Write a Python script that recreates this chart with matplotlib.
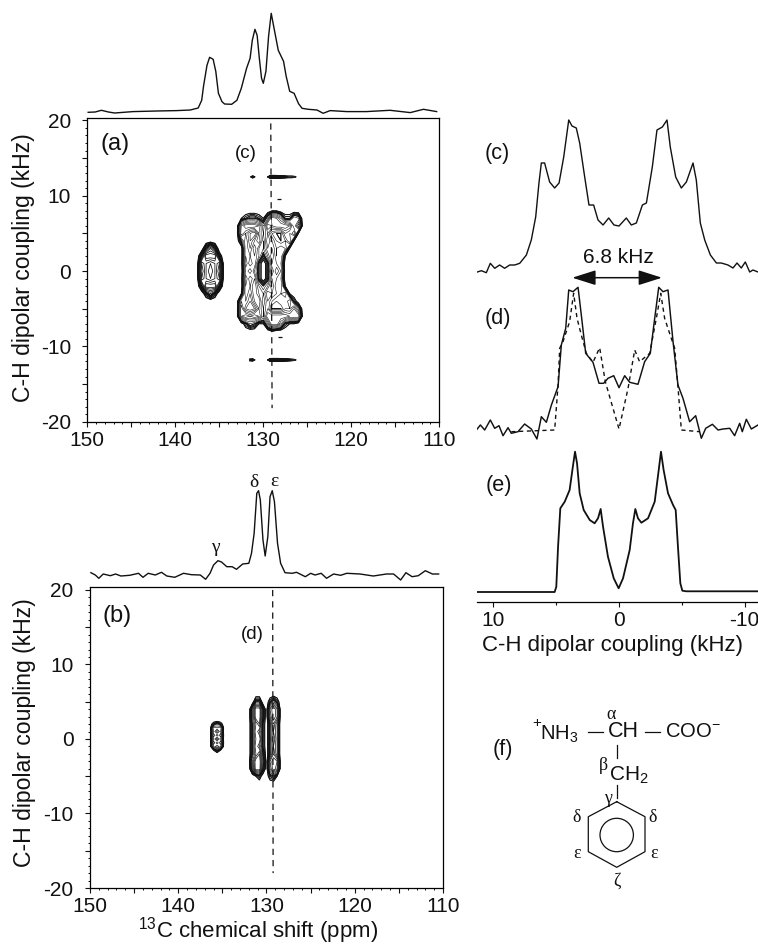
import matplotlib
matplotlib.use('Agg')
import matplotlib.pyplot as plt
import numpy as np

plt.rcParams['font.family'] = ['Liberation Sans', 'DejaVu Sans']
plt.rcParams['mathtext.default'] = 'regular'
plt.rcParams['axes.linewidth'] = 0.9

# 1D slice above panel (a): ppm, height
top_a_ppm = [149.9, 149.1, 148.4, 147.6, 146.9, 144.8, 142.1, 139.8, 138.3, 137.4, 137.0, 136.8, 136.4, 136.1, 135.7,
             135.4, 135.1, 134.7, 134.4, 133.6, 133.0, 132.5, 131.9, 131.5, 131.25, 130.95, 130.7, 130.45, 130.2,
             130.0, 129.7, 129.4, 129.1, 128.8, 128.3, 127.7, 127.4, 127.0, 126.5, 126.0, 125.6, 124.9, 123.9,
             123.2, 122.4, 120.5, 118.3, 115.6, 113.3, 111.8, 110.3]
top_a_int = [0, 0.3, 2, 0.3, -0.7, 0.7, 1.3, 1.7, 2.3, 4.3, 12, 25.7, 47, 55, 53, 41, 19, 10.7, 8.3, 8, 12, 24, 44,
             54, 72, 83, 77, 54, 34, 29, 41, 76, 99, 85, 62, 51, 36, 21, 19, 8.7, 4, 3, 2.3, -1, 1.7, 0.7, 0.7, 2,
             -0.3, 3, 0.7]

# 1D slice above panel (b)
top_b_ppm = [149.9, 149.4, 149.0, 148.5, 147.7, 147.1, 146.5, 145.5, 144.5, 144.0, 143.4, 142.6, 141.9, 141.3, 140.4,
             139.4, 138.5, 137.5, 136.9, 136.4, 136.0, 135.5, 135.1, 134.5, 133.9, 133.4, 132.7, 132.0, 131.7,
             131.4, 131.1, 130.9, 130.7, 130.4, 130.15, 129.85, 129.6, 129.35, 129.1, 128.75, 128.4, 127.9, 127.1,
             126.6, 125.6, 125.0, 124.5, 123.8, 123.2, 122.4, 121.6, 120.9, 119.4, 117.9, 116.4, 115.6, 114.8,
             114.2, 113.5, 112.8, 112.0, 111.2, 110.5]
top_b_int = [2.3, 0, -3.3, 1, -0.7, 1, -1, -0.3, 1.7, -2.3, 1.7, 0, 2.7, -1, -2.3, 1.7, 0.3, 0, -4.3, 1.7, 10, 14.3,
             13, 8.3, 8.3, 5.7, 11, 11.7, 21.7, 41.7, 81.7, 84.3, 75, 35, 19, 38.3, 78.3, 84.3, 73.3, 31.7, 11.7,
             2.3, 1.7, 2.7, -1.7, 1.7, 0, 1.7, -3.3, 1, -0.3, 1.7, 1, -1, 1, 1, -5, 2.3, -1.7, -0.7, 4.3, 1, 1]

# right hand spectra (c), (d), (e): kHz, height
c_khz = [11.35, 10.95, 10.56, 10.24, 9.89, 9.5, 9.1, 8.7, 8.3, 7.9, 7.37, 6.98, 6.63, 6.37, 6.18, 5.92, 5.52, 5.12,
         4.77, 4.4, 4.0, 3.74, 3.4, 3.13, 2.73, 2.39, 2.02, 1.67, 1.27, 0.82, 0.4, 0, -0.58, -0.98, -1.38, -1.86,
         -2.18, -2.65, -3.02, -3.45, -3.82, -4.08, -4.51, -4.96, -5.36, -5.89, -6.15, -6.47, -6.82, -7.27, -7.75,
         -8.14, -8.67, -9.07, -9.39, -9.73, -10.05, -10.4, -10.66, -11.06]
c_int = [2.7, 4.3, 2.3, 11.7, 6.7, 10, 6.7, 10, 10, 11.7, 20, 35, 58, 92, 112, 112, 93, 87, 92, 118, 155, 149, 147,
         132, 98, 70, 70, 55, 50, 57, 50, 49, 57, 50, 52, 70, 72, 108, 145, 148, 155, 128, 98, 87, 93, 112, 95, 52,
         35, 20, 12, 12, 10, 7, 12, 7, 13, 3, 5, 3]

d_khz = [11.35, 11.03, 10.69, 10.24, 9.89, 9.55, 9.23, 8.83, 8.57, 8.04, 7.51, 6.98, 6.53, 6.18, 5.78, 5.38, 4.85,
         4.59, 4.24, 4.0, 3.66, 3.26, 3.0, 2.65, 2.07, 1.59, 1.22, 0.88, 0.42, 0, -0.45, -0.85, -1.51, -2.04, -2.49,
         -2.84, -3.16, -3.5, -3.9, -4.3, -4.69, -5.09, -5.62, -6.1, -6.55, -6.9, -7.43, -7.88, -8.28, -8.81, -9.2,
         -9.6, -9.81, -10.13, -10.53, -11.06]
d_int = [5, 10, 5, 15, 6.7, 9.3, -0.7, 7.3, 1.7, 3.3, 11, 6, -4, 18.3, 12.7, 30, 48.3, 90, 106.7, 145, 143.3, 147.7,
         120, 81.7, 72.7, 51.7, 51.7, 56.7, 59.3, 47.3, 59.3, 52.7, 50.7, 73.3, 81.7, 116.7, 147.7, 143.3, 145,
         93.3, 50, 36.7, 13.3, 19.3, -3.3, 6.7, 10.7, 5, 6, 6.7, -0.7, 11.7, 3.3, 15.7, 6, 10]

# simulated spectrum drawn dashed over (d)
dsim_khz = [8.57, 5.12, 4.85, 4.72, 4.46, 3.93, 3.61, 3.34, 3.0, 2.6, 2.07, 1.54, 1.09, 0, -0.72, -1.25, -1.64,
            -2.44, -2.97, -3.32, -3.63, -4.16, -4.43, -4.69, -4.96, -6.42]
dsim_int = [3.3, 5, 50, 86.7, 93.3, 113.3, 141.7, 116.7, 100, 81.7, 72.7, 87.3, 53.3, 6, 46.7, 85, 73.3, 81.7,
            116.7, 141.7, 116.7, 96.7, 86.7, 48.3, 5, 3.3]

e_khz = [11.35, 5.12, 4.99, 4.85, 4.67, 4.32, 3.93, 3.71, 3.5, 3.34, 3.13, 2.81, 2.33, 1.94, 1.67, 1.46, 1.27, 0.88,
         0.42, 0.03, -0.32, -0.85, -1.11, -1.3, -1.51, -1.78, -2.31, -2.84, -3.16, -3.34, -3.55, -3.9, -4.3, -4.51,
         -4.69, -4.88, -5.04, -5.36, -11.06]
e_int = [0, 0, 5.3, 45.3, 83.7, 90.3, 102, 122, 140.3, 128.7, 98.7, 82, 72, 68.7, 73.7, 83, 65.3, 35.3, 13.7, 3.7,
         13.7, 42, 68.7, 83, 73.7, 69.3, 73.7, 90.3, 122, 140.3, 122, 98.7, 87, 82, 45.3, 8.7, 1.3, 0.7, 0.7]

# 2D contour intensities, main double peak
a_main_ppm = [133, 132.5, 132, 131.5, 131, 130.5, 130, 129.5, 129, 128.5, 128, 127.5, 127, 126.5, 126, 125.5]
a_main_khz = [8, 7, 6, 5, 4, 3, 2, 1, 0, -1, -2, -3, -4, -5, -6, -7, -8]
a_main_z = [[0, 0, 0, 0, 0, 0, 0, 0, 1, 1, 0, 0, 0, 0, 0, 0],
            [0, 1, 2, 3, 3, 2, 1, 4, 9, 8, 6, 2, 2, 5, 4, 0],
            [0, 7, 9, 9, 9, 8, 4, 9, 8, 9, 9, 9, 8, 4, 8, 0],
            [0, 8, 6, 4, 3, 7, 5, 7, 4, 3, 3, 6, 5, 7, 1, 0],
            [0, 3, 7, 4, 6, 8, 4, 8, 6, 4, 3, 4, 6, 1, 0, 0],
            [0, 0, 7, 5, 8, 5, 4, 7, 7, 5, 6, 5, 1, 0, 0, 0],
            [0, 0, 7, 6, 7, 5, 2, 5, 8, 5, 6, 1, 0, 0, 0, 0],
            [0, 0, 8, 5, 7, 2, 0, 2, 7, 6, 5, 0, 0, 0, 0, 0],
            [0, 0, 6, 8, 5, 2, 0, 2, 5, 8, 6, 0, 0, 0, 0, 0],
            [0, 0, 8, 5, 7, 2, 0, 2, 7, 6, 5, 0, 0, 0, 0, 0],
            [0, 0, 7, 6, 8, 5, 3, 5, 8, 5, 6, 1, 0, 0, 0, 0],
            [0, 1, 7, 5, 8, 6, 5, 8, 7, 6, 5, 6, 1, 0, 0, 0],
            [0, 6, 6, 4, 7, 8, 4, 7, 5, 4, 5, 4, 6, 2, 0, 0],
            [0, 8, 4, 3, 4, 7, 5, 7, 3, 3, 3, 5, 5, 7, 4, 0],
            [0, 8, 9, 8, 9, 8, 5, 9, 9, 9, 9, 9, 8, 8, 8, 0],
            [0, 0, 2, 4, 3, 1, 1, 5, 9, 9, 6, 2, 1, 1, 0, 0],
            [0, 0, 0, 0, 0, 0, 0, 0, 1, 0, 0, 0, 0, 0, 0, 0]]

# panel (a), gamma peak
a_gamma_ppm = [137.5, 137, 136.5, 136, 135.5, 135, 134.5]
a_gamma_khz = [4, 3, 2, 1, 0, -1, -2, -3, -4]
a_gamma_z = [[0, 0, 0, 0, 0, 0, 0],
             [0, 0, 3, 6, 3, 0, 0],
             [0, 3, 9, 9, 9, 2, 0],
             [0, 8, 6, 5, 6, 8, 0],
             [0, 9, 6, 4, 6, 9, 0],
             [0, 8, 6, 5, 6, 8, 0],
             [0, 3, 9, 9, 9, 3, 0],
             [0, 0, 2, 4, 2, 0, 0],
             [0, 0, 0, 0, 0, 0, 0]]

# panel (a), weak sidebands near +/-12 kHz
a_side_ppm = [131.6, 131.2, 130.8, 130.4, 130, 129.6, 129.2, 128.8, 128.4, 128, 127.6, 127.2, 126.8, 126.4, 126]
a_up_khz = [12.75, 12.5, 12.25]
a_up_z = [[0] * 15,
          [0, 3, 0, 0, 0, 0, 7, 8, 6, 4, 3, 2, 2, 1.5, 0],
          [0] * 15]
a_low_khz = [-11.55, -11.8, -12.05]
a_low_z = [[0] * 15,
           [2, 3, 0, 0, 0, 0, 7, 8, 8, 6, 4, 3, 2, 1.5, 0],
           [0] * 15]
a_speck_ppm = [128.2, 128.1]
a_speck_khz = [9.5, -8.7]

# panel (b), delta and epsilon columns
b_main_ppm = [132, 131.6, 131.2, 130.8, 130.4, 130, 129.6, 129.2, 128.8, 128.4]
b_main_khz = [6, 5, 4, 3, 2, 1, 0, -1, -2, -3, -4, -5, -6]
b_main_z = [[0, 0, 0, 0, 0, 0, 0, 0, 0, 0],
            [0, 0, 3, 3, 0, 0, 2, 4, 2, 0],
            [0, 4, 9, 9, 3, 0, 7, 9, 7, 0],
            [0, 4, 9, 9, 3, 0, 6, 9, 7, 0],
            [0, 3, 6, 8, 2, 0, 3, 7, 4, 0],
            [0, 3, 7, 5, 2, 0, 3, 6, 4, 0],
            [0, 3, 6, 7, 2, 0, 3, 7, 4, 0],
            [0, 3, 7, 5, 2, 0, 3, 6, 4, 0],
            [0, 3, 6, 8, 3, 0, 3, 7, 4, 0],
            [0, 5, 9, 9, 4, 0, 7, 9, 8, 0],
            [0, 4, 9, 9, 3, 0, 6, 9, 7, 0],
            [0, 0, 1, 2, 0, 0, 2, 3, 1, 0],
            [0, 0, 0, 0, 0, 0, 0, 0, 0, 0]]

# panel (b), gamma peak
b_gamma_ppm = [136.4, 136, 135.6, 135.2, 134.8]
b_gamma_khz = [2.5, 2, 1.5, 1, 0.5, 0, -0.5, -1, -1.5, -2]
b_gamma_z = [[0, 0, 0, 0, 0],
             [0, 2, 4, 2, 0],
             [0, 7, 6, 7, 0],
             [0, 6, 9, 6, 0],
             [0, 8, 5, 8, 0],
             [0, 6, 9, 6, 0],
             [0, 8, 5, 8, 0],
             [0, 6, 8, 6, 0],
             [0, 1, 3, 1, 0],
             [0, 0, 0, 0, 0]]

levels = [1, 2, 3, 4, 5, 6, 7, 8]
edge_levels = [1, 1.5, 2, 2.5, 3]
W, H = 758, 946
ink = '#111111'

fig = plt.figure(figsize=(W / 100, H / 100), dpi=100)


def px_axes(left, top, right, bottom):
    return fig.add_axes([left / W, 1 - bottom / H, (right - left) / W, (bottom - top) / H])


def px_text(x, y, s, size=12, **kw):
    fig.text(x / W, 1 - y / H, s, ha='center', va='center', fontsize=size, color=ink, **kw)


def draw_blob(ax, ppm, khz, z, lw=0.4, edge=0.7):
    # thin lines inside, the tightly packed outer levels make the black rim
    ax.contour(ppm, khz, np.array(z), levels=levels, colors=ink, linewidths=lw, linestyles='solid')
    ax.contour(ppm, khz, np.array(z), levels=edge_levels, colors=ink, linewidths=edge, linestyles='solid')


def style_2d(ax, ylim):
    ax.set_xlim(150, 110)
    ax.set_ylim(*ylim)
    ax.set_xticks([150, 145, 140, 135, 130, 125, 120, 115, 110])
    ax.set_xticklabels(['150', '', '140', '', '130', '', '120', '', '110'])
    ax.set_xticks(np.arange(110, 151, 1), minor=True)
    ax.set_yticks(np.arange(-20, 21, 5))
    ax.set_yticklabels(['-20', '', '-10', '', '0', '', '10', '', '20'])
    ax.set_yticks(np.arange(-20, 21, 1), minor=True)
    ax.tick_params(which='major', direction='out', length=3.8, width=0.8, labelsize=15, colors=ink)
    ax.tick_params(axis='x', which='major', pad=3)
    ax.tick_params(axis='y', which='major', pad=8)
    ax.tick_params(which='minor', direction='out', length=1.2, width=0.7, colors=ink)


def spectrum_axes(left, top, right, bottom, base):
    ax = px_axes(left, top, right, bottom)
    ax.set_xlim(150, 110)
    ax.set_ylim(base - bottom, base - top)
    ax.axis('off')
    return ax


# panel (a)
ax_a = px_axes(87.3, 118.3, 439.3, 421.7)
style_2d(ax_a, (-20, 20.28))
ax_a.plot([129.15, 129.0], [19.6, -18.2], color=ink, lw=0.9, ls=(0, (5, 4)))
draw_blob(ax_a, a_main_ppm, a_main_khz, a_main_z)
draw_blob(ax_a, a_gamma_ppm, a_gamma_khz, a_gamma_z, lw=0.55, edge=0.9)
draw_blob(ax_a, a_side_ppm, a_up_khz, a_up_z, lw=0.5, edge=0.5)
draw_blob(ax_a, a_side_ppm, a_low_khz, a_low_z, lw=0.5, edge=0.5)
ax_a.plot(a_speck_ppm, a_speck_khz, ls='none', marker='_', ms=3, mew=0.9, color=ink)

top_a = spectrum_axes(87.3, 2, 439.3, 118, 112.3)
top_a.plot(top_a_ppm, top_a_int, color=ink, lw=1.0)

# panel (b)
ax_b = px_axes(90, 587, 443, 888)
style_2d(ax_b, (-20, 20.4))
ax_b.plot([129.3, 129.25], [20, -18], color=ink, lw=0.9, ls=(0, (5, 4)))
draw_blob(ax_b, b_main_ppm, b_main_khz, b_main_z, lw=0.5, edge=0.7)
draw_blob(ax_b, b_gamma_ppm, b_gamma_khz, b_gamma_z, lw=0.45, edge=0.6)

top_b = spectrum_axes(90, 470, 443, 586, 575)
top_b.plot(top_b_ppm, top_b_int, color=ink, lw=1.0)

# right hand column, heights measured up from the axis line
ax_r = px_axes(477, 90, 758, 602)
ax_r.set_xlim(11.3, -11.06)
ax_r.set_ylim(0, 512)
for side in ['top', 'left', 'right']:
    ax_r.spines[side].set_visible(False)
ax_r.set_yticks([])
ax_r.patch.set_alpha(0)
ax_r.set_xticks([10, 0, -10])
ax_r.set_xticklabels(['10', '0', '-10'])
ax_r.set_xticks([5, -5], minor=True)
ax_r.tick_params(which='major', direction='out', length=3.4, width=0.8, labelsize=15, pad=3, colors=ink)
ax_r.tick_params(which='minor', direction='out', length=1.8, width=0.8, colors=ink)

c_base, d_base, e_base = 327, 167, 10
ax_r.plot(c_khz, np.array(c_int) + c_base, color=ink, lw=1.0)
ax_r.plot(dsim_khz, np.array(dsim_int) + d_base, color=ink, lw=1.0, ls=(0, (3, 2.6)))
ax_r.plot(d_khz, np.array(d_int) + d_base, color=ink, lw=1.05)
ax_r.plot(e_khz, np.array(e_int) + e_base, color=ink, lw=1.3)
ax_r.annotate('', xy=(3.72, 324.3), xytext=(-3.42, 324.3),
              arrowprops=dict(arrowstyle='<|-|>,head_length=0.85,head_width=0.27', color=ink, lw=1.1,
                              mutation_scale=17, shrinkA=0, shrinkB=0))

# axis titles
px_text(24, 268, 'C-H dipolar coupling (kHz)', rotation=90, size=16.6)
px_text(25, 733, 'C-H dipolar coupling (kHz)', rotation=90, size=16.6)
px_text(258, 931, '$^{13}$C chemical shift (ppm)', size=16)
px_text(612, 645, 'C-H dipolar coupling (kHz)', size=16)

# panel letters
px_text(115, 144, '(a)', size=17)
px_text(246, 153, '(c)', size=13.5)
px_text(117, 616, '(b)', size=17)
px_text(252, 634, '(d)', size=13.5)
px_text(497, 153, '(c)', size=15.6)
px_text(498, 318, '(d)', size=15.6)
px_text(499, 485, '(e)', size=15.6)
px_text(618, 257, '6.8 kHz', size=15)

# peak assignment
greek = ['Liberation Serif', 'DejaVu Serif']
px_text(254, 482, 'δ', size=14, family=greek)
px_text(274, 481, 'ε', size=14, family=greek)
px_text(215, 547, 'γ', size=14, family=greek)

# panel (f), the molecule
ax_f = fig.add_axes([0, 0, 1, 1])
ax_f.set_xlim(0, W)
ax_f.set_ylim(H, 0)
ax_f.axis('off')
hex_x = [616.7, 645, 645, 616.7, 588.3, 588.3, 616.7]
hex_y = [801.7, 816.7, 851.7, 867.3, 851.7, 816.7, 801.7]
ax_f.plot(hex_x, hex_y, color=ink, lw=0.9)
ax_f.add_patch(plt.Circle((616.7, 835), 16.7, fill=False, ec=ink, lw=0.9))
ax_f.plot([588.3, 603.3], [731.7, 731.7], color=ink, lw=0.9)
ax_f.plot([645, 660], [731.7, 731.7], color=ink, lw=0.9)
ax_f.plot([616.7, 616.7], [745, 758], color=ink, lw=0.9)
ax_f.plot([616.7, 616.7], [785, 798], color=ink, lw=0.9)

px_text(503, 749, '(f)', size=15.6)
px_text(537, 723, '+', size=11)
px_text(559.5, 734, 'NH$_3$', size=14.5)
px_text(623, 731.7, 'CH', size=15.5)
px_text(693, 731.7, 'COO$^{-}$', size=14.5)
px_text(629, 775, 'CH$_2$', size=15)
px_text(611, 714, 'α', size=13, family=greek)
px_text(603, 765, 'β', size=13, family=greek)
px_text(608, 798, 'γ', size=13, family=greek)
px_text(577, 817, 'δ', size=13, family=greek)
px_text(653, 817, 'δ', size=13, family=greek)
px_text(577, 853, 'ε', size=13, family=greek)
px_text(654, 853, 'ε', size=13, family=greek)
px_text(617, 881, 'ζ', size=13, family=greek)

fig.savefig('out.png', dpi=100, facecolor='white')
